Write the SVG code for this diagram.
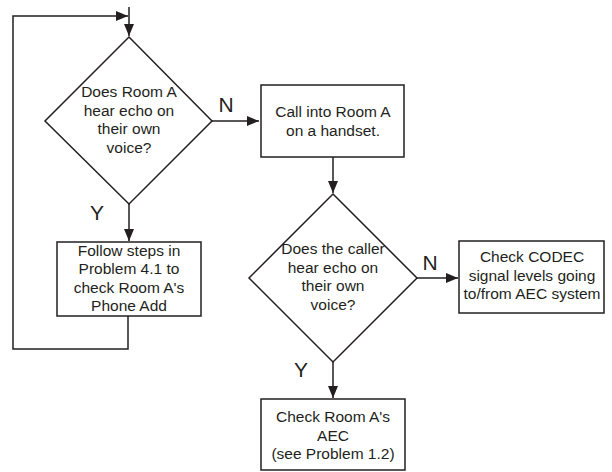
<svg xmlns="http://www.w3.org/2000/svg" width="612" height="472" viewBox="0 0 612 472">
<style>
.shape{fill:#fff;stroke:#231f20;stroke-width:1.5}
.line{fill:none;stroke:#231f20;stroke-width:1.5}
text{font-family:"Liberation Sans",Arial,sans-serif;font-size:15.5px;fill:#231f20;text-anchor:middle}
.lab{font-size:21px}
</style>
<defs>
<marker id="arr" viewBox="0 0 12 10" refX="12" refY="5" markerWidth="12" markerHeight="10" markerUnits="userSpaceOnUse" orient="auto">
<path d="M0,0 L12,5 L0,10 Z" fill="#231f20"/>
</marker>
</defs>
<g id="connectors">
<path class="line" d="M129,7 L129,36" marker-end="url(#arr)"/>
<path class="line" d="M128,316 L128,349 L13,349 L13,16 L128,16" marker-end="url(#arr)"/>
<path class="line" d="M212,121 L259,121" marker-end="url(#arr)"/>
<path class="line" d="M129,204 L129,241" marker-end="url(#arr)"/>
<path class="line" d="M333,157 L333,193" marker-end="url(#arr)"/>
<path class="line" d="M417,278 L458,278" marker-end="url(#arr)"/>
<path class="line" d="M333,362 L333,398" marker-end="url(#arr)"/>
<text class="lab" x="226" y="112">N</text>
<text class="lab" x="97" y="220">Y</text>
<text class="lab" x="430" y="270">N</text>
<text class="lab" x="301" y="377">Y</text>
</g>
<g id="d1">
<path class="shape" d="M129,37 L212,121 L129,204 L45,121 Z"/>
<text x="129" y="97">Does Room A</text>
<text x="129" y="116">hear echo on</text>
<text x="129" y="134">their own</text>
<text x="129" y="153">voice?</text>
</g>
<g id="b1">
<rect class="shape" x="261" y="85" width="143" height="72"/>
<text x="333" y="117">Call into Room A</text>
<text x="333" y="136">on a handset.</text>
</g>
<g id="b2">
<rect class="shape" x="57" y="242" width="144" height="74"/>
<text x="129" y="256">Follow steps in</text>
<text x="129" y="274">Problem 4.1 to</text>
<text x="129" y="293">check Room A's</text>
<text x="129" y="311">Phone Add</text>
</g>
<g id="d2">
<path class="shape" d="M333,194 L417,278 L333,362 L249,278 Z"/>
<text x="333" y="254">Does the caller</text>
<text x="333" y="273">hear echo on</text>
<text x="333" y="291">their own</text>
<text x="333" y="310">voice?</text>
</g>
<g id="b3">
<rect class="shape" x="459" y="241" width="145" height="72"/>
<text x="532" y="262">Check CODEC</text>
<text x="532" y="281">signal levels going</text>
<text x="532" y="299">to/from AEC system</text>
</g>
<g id="b4">
<rect class="shape" x="261" y="399" width="144" height="71"/>
<text x="333" y="422">Check Room A's</text>
<text x="333" y="441">AEC</text>
<text x="333" y="459">(see Problem 1.2)</text>
</g>
</svg>
